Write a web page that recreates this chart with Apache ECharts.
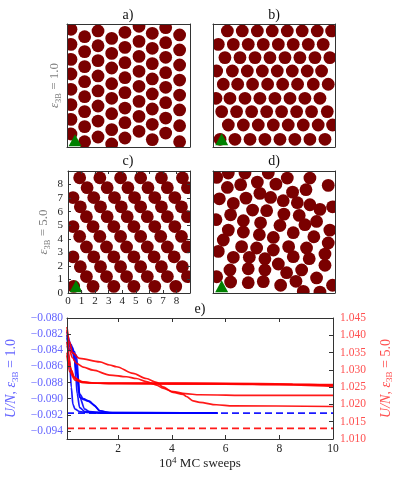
<!DOCTYPE html>
<html>
<head>
<meta charset="utf-8">
<script src="https://cdn.jsdelivr.net/npm/echarts@6/dist/echarts.min.js"></script>
<style>
html, body { margin: 0; padding: 0; background: #fff; }
#main { width: 394px; height: 479px; }
</style>
</head>
<body>
<div id="main"></div>
<script>
// particle centres in box units (box is 0..9 on both sides)
const panelA = [
  [0.29,8.61],[0.29,7.51],[0.29,6.41],[0.29,5.34],[0.29,4.22],[0.29,3.10],[0.29,2.02],[0.29,0.95],
  [1.29,8.07],[1.29,6.98],[1.29,5.88],[1.29,4.78],[1.29,3.68],[1.29,2.59],[1.29,1.49],[1.29,0.39],
  [2.27,8.49],[2.27,7.41],[2.27,6.32],[2.27,5.20],[2.27,4.10],[2.27,3.00],[2.27,1.90],[2.27,0.73],
  [3.27,7.95],[3.27,6.85],[3.27,5.78],[3.27,4.63],[3.27,3.56],[3.27,2.44],[3.27,1.27],[3.27,0.22],
  [4.24,8.39],[4.24,7.29],[4.24,6.17],[4.24,5.07],[4.24,3.98],[4.24,2.85],[4.24,1.78],[4.24,0.66],
  [5.27,8.83],[5.27,7.73],[5.27,6.63],[5.27,5.54],[5.27,4.44],[5.27,3.34],[5.27,2.24],[5.27,1.15],
  [6.24,8.32],[6.24,7.22],[6.24,6.10],[6.24,4.98],[6.24,3.88],[6.24,2.78],[6.24,1.66],[6.24,0.54],
  [7.22,8.73],[7.22,7.63],[7.22,6.56],[7.22,5.44],[7.22,4.37],[7.22,3.24],[7.22,2.12],[7.22,1.02],
  [8.24,8.20],[8.24,7.10],[8.24,6.00],[8.24,4.90],[8.24,3.80],[8.24,2.71],[8.24,1.56],[8.24,0.39]
];
const panelB = [
  [1.06,8.49],[2.16,8.49],[3.27,8.49],[4.37,8.49],[5.48,8.49],[6.58,8.49],[7.69,8.49],[8.75,8.49],
  [0.39,7.51],[1.50,7.51],[2.60,7.51],[3.71,7.51],[4.82,7.51],[5.92,7.51],[7.03,7.51],[8.13,7.51],
  [0.88,6.54],[1.99,6.54],[3.10,6.54],[4.20,6.54],[5.31,6.54],[6.41,6.54],[7.52,6.54],[8.62,6.54],
  [0.27,5.56],[1.43,5.56],[2.53,5.56],[3.64,5.56],[4.74,5.56],[5.85,5.56],[6.95,5.56],[8.01,5.56],
  [0.76,4.59],[1.82,4.59],[2.92,4.59],[4.03,4.59],[5.14,4.59],[6.24,4.59],[7.40,4.59],[8.50,4.59],
  [0.22,3.56],[1.25,3.56],[2.36,3.56],[3.46,3.56],[4.57,3.56],[5.68,3.56],[6.78,3.56],[7.89,3.56],
  [0.64,2.59],[1.74,2.59],[2.85,2.59],[3.96,2.59],[5.06,2.59],[6.17,2.59],[7.27,2.59],[8.43,2.59],
  [1.13,1.61],[2.24,1.61],[3.34,1.61],[4.45,1.61],[5.55,1.61],[6.66,1.61],[7.76,1.61],[8.82,1.61],
  [0.52,0.56],[1.62,0.56],[2.73,0.56],[3.83,0.56],[4.94,0.56],[6.04,0.56],[7.15,0.56],[8.26,0.56]
];
const panelC = [
  [0.86,8.50],[2.35,8.50],[3.88,8.50],[5.36,8.50],[6.89,8.50],[8.44,8.50],
  [1.41,7.77],[2.89,7.77],[4.42,7.77],[5.90,7.77],[7.33,7.77],[8.81,7.77],
  [0.37,7.04],[1.90,7.04],[3.43,7.04],[4.91,7.04],[6.40,7.04],[7.88,7.04],
  [0.91,6.36],[2.40,6.36],[3.93,6.36],[5.36,6.36],[6.89,6.36],[8.37,6.36],
  [1.36,5.63],[2.89,5.63],[4.37,5.63],[5.85,5.63],[7.33,5.63],[8.81,5.63],
  [0.37,4.90],[1.85,4.90],[3.38,4.90],[4.86,4.90],[6.40,4.90],[7.88,4.90],
  [0.86,4.17],[2.35,4.17],[3.88,4.17],[5.36,4.17],[6.84,4.17],[8.37,4.17],
  [1.36,3.40],[2.84,3.40],[4.32,3.40],[5.85,3.40],[7.33,3.40],[8.81,3.40],
  [0.37,2.67],[1.90,2.67],[3.38,2.67],[4.86,2.67],[6.35,2.67],[7.83,2.67],
  [0.91,1.94],[2.40,1.94],[3.88,1.94],[5.36,1.94],[6.89,1.94],[8.44,1.94],
  [1.36,1.21],[2.84,1.21],[4.32,1.21],[5.85,1.21],[7.33,1.21],[8.81,1.21],
  [0.42,0.49],[1.85,0.49],[3.38,0.49],[4.86,0.49],[6.40,0.49],[7.95,0.49]
];
const panelD = [
  [0.27,8.53],[1.13,8.85],[2.36,8.85],[4.08,8.85],[5.48,8.48],[7.15,8.48],[8.50,7.94],
  [1.06,7.79],[2.04,7.99],[3.27,8.18],[4.64,8.03],[5.87,7.44],[6.86,7.62],
  [0.47,6.95],[1.50,6.61],[2.43,7.00],[3.46,7.35],[4.25,7.05],[5.18,6.81],[6.22,6.66],
  [7.15,6.51],[7.89,6.17],[8.82,6.36],[0.22,5.41],[1.30,5.77],[2.92,6.12],[3.96,6.07],
  [5.23,5.82],[6.36,5.72],[7.64,5.28],[2.24,5.33],[3.51,5.18],[4.94,4.98],[6.78,5.04],
  [8.62,4.64],[1.13,4.64],[2.24,4.50],[3.42,4.30],[4.45,4.10],[5.92,4.45],[7.44,4.15],
  [0.76,3.91],[8.50,3.69],[2.11,3.42],[3.22,3.32],[4.45,3.17],[5.58,3.42],[6.90,3.32],
  [0.39,3.07],[8.26,2.87],[1.50,2.63],[2.68,2.63],[3.83,2.53],[5.92,2.68],[7.10,2.53],
  [4.82,2.14],[8.26,2.04],[0.27,1.20],[1.25,1.70],[2.60,1.79],[3.83,1.70],[5.43,1.50],
  [6.54,1.70],[7.64,1.11],[1.30,0.81],[2.60,0.76],[3.71,0.84],[4.99,0.57],[6.12,0.86],
  [6.66,0.12],[7.89,0.07],[8.82,0.57]
];
// green marker of each panel
const markers = [[0.59, 0.49], [0.64, 0.56], [0.59, 0.50], [0.64, 0.49]];
const gridTicks = [0, 1, 2, 3, 4, 5, 6, 7, 8];

// panel e: energy per particle vs 10^4 MC sweeps
const blueRun1 = [[0.1,-0.0821],[0.2,-0.0854],[0.26,-0.0886],[0.32,-0.0907],[0.4,-0.0913],[0.57,-0.0916],[0.82,-0.0917],[1.5,-0.0918],[5.7,-0.0918]];
const blueRun2 = [[0.1,-0.0817],[0.26,-0.0833],[0.39,-0.0854],[0.43,-0.0874],[0.48,-0.0894],[0.57,-0.0911],[0.76,-0.0916],[1.2,-0.0917],[5.7,-0.0918]];
const blueRun3 = [[0.1,-0.0825],[0.32,-0.0837],[0.45,-0.0866],[0.57,-0.0898],[0.76,-0.0913],[0.94,-0.0916],[1.5,-0.0918],[5.7,-0.0918]];
const blueRun4 = [[0.1,-0.0830],[0.39,-0.0842],[0.51,-0.0874],[0.57,-0.0898],[0.7,-0.0901],[0.88,-0.0903],[1.07,-0.0907],[1.32,-0.0915],[1.56,-0.0917],[2.0,-0.0918],[5.7,-0.0918]];
const blueRun5 = [[0.1,-0.0835],[0.45,-0.0846],[0.57,-0.0894],[0.7,-0.0900],[0.94,-0.0903],[1.13,-0.0909],[1.32,-0.0915],[1.8,-0.0918],[5.7,-0.0918]];
const redRun1 = [[0.1,1.0424],[0.2,1.0380],[0.3,1.0350],[0.57,1.0333],[1.32,1.0323],[1.69,1.0314],[1.94,1.0309],[2.56,1.0290],[3.05,1.0275],[3.43,1.0264],[3.67,1.0251],[4.05,1.0235],[4.42,1.0229],[4.54,1.0223],[4.79,1.0210],[5.04,1.0206],[5.66,1.0199],[6.28,1.0196],[10,1.0194]];
const redRun2 = [[0.1,1.0415],[0.2,1.0355],[0.3,1.0335],[0.45,1.0319],[0.7,1.0308],[1.07,1.0299],[1.69,1.0285],[2.31,1.0280],[2.68,1.0275],[3.05,1.0266],[3.43,1.0256],[3.67,1.0247],[4.05,1.0237],[4.5,1.0231],[5.04,1.0228],[7,1.0226],[10,1.0226]];
const redRun3 = [[0.1,1.0350],[0.2,1.0310],[0.35,1.0280],[0.6,1.0266],[1.0,1.0262],[2,1.0260],[4,1.0259],[6,1.0259],[8,1.0257],[10,1.0252]];
const redRun4 = [[0.1,1.0342],[0.2,1.0295],[0.4,1.0270],[0.7,1.0263],[1.5,1.0261],[4,1.0261],[7,1.0259],[10,1.0256]];
const redRun5 = [[0.1,1.0381],[0.15,1.0350],[0.25,1.0300],[0.4,1.0275],[0.7,1.0265],[1.2,1.0262],[3,1.0262],[6,1.0261],[8.5,1.0259],[10,1.0257]];
const blueGround = -0.0918;
const redGround = 1.0131;
const sweepTicks = [2, 4, 6, 8, 10];
const leftTicks = [-0.080, -0.082, -0.084, -0.086, -0.088, -0.090, -0.092, -0.094];
const rightTicks = [1.010, 1.015, 1.020, 1.025, 1.030, 1.035, 1.040, 1.045];

const serif = 'Liberation Serif';
const maroon = '#7a0000';
const blueTxt = '#6464ff';
const redTxt = '#ff5050';
const frame = {show: true, onZero: false, lineStyle: {color: '#333', width: 1}};
const noSplit = {show: false};
const fmt3 = v => (v < 0 ? '\u2212' : '') + Math.abs(v).toFixed(3);

function epsName(value, color, size, withUN) {
  const base = {fontFamily: serif, fontSize: size, color: color, lineHeight: 16};
  return {
    text: (withUN ? '{i|U/N}{n|, }' : '') + '{i|\u03b5}{s|3B}{n| = ' + value + '}',
    rich: {
      i: Object.assign({}, base, {fontStyle: 'italic'}),
      n: base,
      s: Object.assign({}, base, {fontSize: size * 0.65, lineHeight: 9, verticalAlign: 'bottom'})
    }
  };
}

const boxes = [
  {left: 67, top: 24, width: 123, height: 123},
  {left: 213, top: 24, width: 122, height: 123},
  {left: 68, top: 171, width: 122, height: 122},
  {left: 213, top: 171, width: 122, height: 122},
  {left: 67, top: 318, width: 266, height: 121}
].map(b => Object.assign({outerBoundsMode: 'none'}, b));

// circles as a custom series so they get cut at the box edge
function disc(params, api) {
  const p = api.coord([api.value(0), api.value(1)]);
  return {type: 'circle', shape: {cx: p[0], cy: p[1], r: 6.4}, style: {fill: maroon}};
}

const xAxes = [], yAxes = [], series = [];
[panelA, panelB, panelC, panelD].forEach((pts, i) => {
  const ticks = i === 2;
  const tick = {show: ticks, inside: true, length: 3, lineStyle: {color: '#333'}};
  const label = {show: ticks, customValues: gridTicks, color: '#222', fontFamily: serif, fontSize: 11};
  xAxes.push({gridIndex: i, type: 'value', min: 0, max: 9, interval: 1, z: 5, axisLine: frame,
    splitLine: noSplit, axisTick: tick, axisLabel: Object.assign({margin: 3}, label)});
  xAxes.push({gridIndex: i, type: 'value', position: 'top', min: 0, max: 9, interval: 1, z: 5,
    axisLine: frame, splitLine: noSplit, axisTick: tick, axisLabel: {show: false}});
  const yMain = {gridIndex: i, type: 'value', min: 0, max: 9, interval: 1, z: 5, axisLine: frame,
    splitLine: noSplit, axisTick: tick, axisLabel: Object.assign({margin: 5}, label)};
  if (i === 0 || i === 2) {
    const nm = epsName(i === 0 ? '1.0' : '5.0', '#808080', 13, false);
    Object.assign(yMain, {name: nm.text, nameLocation: 'middle', nameRotate: 90,
      nameGap: i === 0 ? 4 : 16, nameTextStyle: {rich: nm.rich}});
  }
  yAxes.push(yMain);
  yAxes.push({gridIndex: i, type: 'value', position: 'right', min: 0, max: 9, interval: 1, z: 5,
    axisLine: frame, splitLine: noSplit, axisTick: tick, axisLabel: {show: false}});
  series.push({type: 'custom', xAxisIndex: 2 * i, yAxisIndex: 2 * i, data: pts, clip: true,
    renderItem: disc, encode: {x: 0, y: 1}, silent: true});
  series.push({type: 'scatter', xAxisIndex: 2 * i, yAxisIndex: 2 * i, data: [markers[i]],
    symbol: 'triangle', symbolSize: [13, 12], itemStyle: {color: '#008000', opacity: 1}, z: 3, silent: true});
});

// panel e axes
const eTick = {inside: true, length: 4, lineStyle: {color: '#333'}};
xAxes.push({gridIndex: 4, type: 'value', min: 0.1, max: 10, z: 5, axisLine: frame, splitLine: noSplit,
  axisTick: Object.assign({customValues: sweepTicks}, eTick),
  axisLabel: {customValues: sweepTicks, color: '#222', fontFamily: serif, fontSize: 11.5, margin: 4},
  name: '{n|10}{p|4}{n| MC sweeps}', nameLocation: 'middle', nameGap: 17,
  nameTextStyle: {rich: {
    n: {fontFamily: serif, fontSize: 13, color: '#222', lineHeight: 16},
    p: {fontFamily: serif, fontSize: 9, color: '#222', lineHeight: 9, verticalAlign: 'top'}
  }}});
xAxes.push({gridIndex: 4, type: 'value', position: 'top', min: 0.1, max: 10, z: 5, axisLine: frame,
  splitLine: noSplit, axisTick: Object.assign({customValues: sweepTicks}, eTick), axisLabel: {show: false}});
const leftName = epsName('1.0', blueTxt, 14, true);
yAxes.push({gridIndex: 4, type: 'value', min: -0.095, max: -0.080, z: 5, axisLine: frame, splitLine: noSplit,
  axisTick: Object.assign({customValues: leftTicks}, eTick),
  axisLabel: {customValues: leftTicks, formatter: fmt3, color: blueTxt, fontFamily: serif, fontSize: 11.5, margin: 4},
  name: leftName.text, nameLocation: 'middle', nameRotate: 90, nameGap: 46,
  nameTextStyle: {rich: leftName.rich}});
const rightName = epsName('5.0', redTxt, 14, true);
yAxes.push({gridIndex: 4, type: 'value', position: 'right', min: 1.010, max: 1.045, z: 5, axisLine: frame,
  splitLine: noSplit, axisTick: Object.assign({customValues: rightTicks}, eTick),
  axisLabel: {customValues: rightTicks, formatter: fmt3, color: redTxt, fontFamily: serif, fontSize: 11.5, margin: 7},
  name: rightName.text, nameLocation: 'middle', nameRotate: 90, nameGap: 45,
  nameTextStyle: {rich: rightName.rich}});

function run(data, yIdx, color, dashed) {
  return {type: 'line', xAxisIndex: 8, yAxisIndex: yIdx, data: data, showSymbol: false, silent: true,
    smooth: dashed ? false : 0.3, smoothMonotone: 'x',
    lineStyle: {color: color, width: 1.7, opacity: 0.9, type: dashed ? [7, 4] : 'solid'}};
}
series.push(run([[0.1, blueGround], [10, blueGround]], 8, '#0000ff', true));
series.push(run([[0.1, redGround], [10, redGround]], 9, '#ff0000', true));
[blueRun1, blueRun2, blueRun3, blueRun4, blueRun5].forEach(r => series.push(run(r, 8, '#0000ff', false)));
[redRun1, redRun2, redRun3, redRun4, redRun5].forEach(r => series.push(run(r, 9, '#ff0000', false)));

const titleFont = '14px "' + serif + '"';
const titles = [['a)', 128, 15], ['b)', 274, 15], ['c)', 128, 161], ['d)', 274, 161], ['e)', 200, 309]];

const chart = echarts.init(document.getElementById('main'));
chart.setOption({
  animation: false,
  backgroundColor: '#fff',
  grid: boxes,
  xAxis: xAxes,
  yAxis: yAxes,
  series: series,
  graphic: titles.map(t => ({type: 'text', x: t[1], y: t[2],
    style: {text: t[0], font: titleFont, fill: '#111', textAlign: 'center', textVerticalAlign: 'middle'}}))
});
</script>
</body>
</html>
